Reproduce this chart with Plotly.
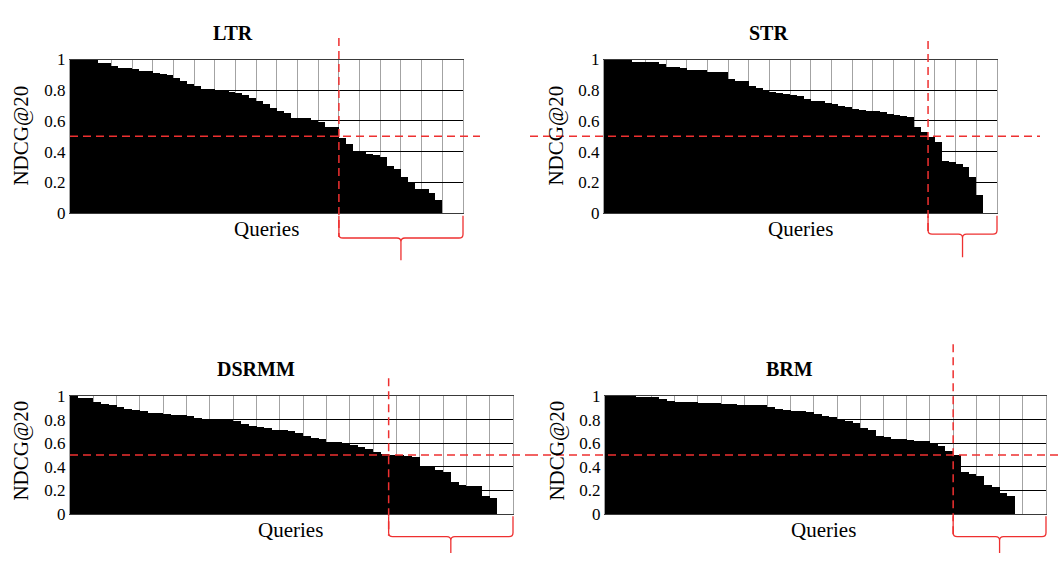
import plotly.graph_objects as go

W, H = 1064, 564

# ---------------- data ----------------
queries = list(range(57))  # queries sorted by NDCG@20

ltr = [1.0, 1.0, 1.0, 1.0, 0.98, 0.98, 0.96, 0.95, 0.95, 0.94,
       0.93, 0.93, 0.915, 0.91, 0.90, 0.88, 0.86, 0.845, 0.83, 0.81,
       0.81, 0.80, 0.80, 0.79, 0.788, 0.773, 0.752, 0.731, 0.71, 0.685,
       0.668, 0.652, 0.625, 0.625, 0.625, 0.61, 0.595, 0.563, 0.563, 0.49,
       0.45, 0.40, 0.40, 0.385, 0.38, 0.365, 0.31, 0.29, 0.235, 0.195,
       0.16, 0.16, 0.13, 0.09, 0.0, 0.0, 0.0]

str_ = [1.0, 1.0, 1.0, 1.0, 0.99, 0.99, 0.985, 0.985, 0.977, 0.956,
        0.956, 0.947, 0.937, 0.937, 0.937, 0.92, 0.92, 0.92, 0.878, 0.862,
        0.86, 0.83, 0.815, 0.795, 0.79, 0.785, 0.78, 0.773, 0.763, 0.746,
        0.735, 0.73, 0.72, 0.71, 0.70, 0.695, 0.68, 0.675, 0.67, 0.668,
        0.658, 0.645, 0.64, 0.635, 0.63, 0.565, 0.53, 0.495, 0.465, 0.34,
        0.335, 0.32, 0.30, 0.237, 0.12, 0.0, 0.0]

dsrmm = [1.0, 0.985, 0.985, 0.945, 0.93, 0.92, 0.905, 0.89, 0.88, 0.87,
         0.86, 0.855, 0.85, 0.84, 0.84, 0.83, 0.81, 0.805, 0.805, 0.795,
         0.795, 0.785, 0.76, 0.745, 0.735, 0.725, 0.715, 0.71, 0.70, 0.69,
         0.665, 0.648, 0.633, 0.61, 0.607, 0.605, 0.585, 0.57, 0.55, 0.525,
         0.51, 0.50, 0.497, 0.495, 0.483, 0.40, 0.40, 0.375, 0.36, 0.27,
         0.25, 0.24, 0.235, 0.15, 0.135, 0.0, 0.0]

brm = [1.0, 1.0, 1.0, 1.0, 0.995, 0.995, 0.99, 0.975, 0.96, 0.95,
       0.95, 0.95, 0.94, 0.94, 0.94, 0.93, 0.93, 0.925, 0.92, 0.92,
       0.92, 0.91, 0.89, 0.88, 0.87, 0.87, 0.865, 0.851, 0.83, 0.82,
       0.80, 0.785, 0.77, 0.73, 0.715, 0.665, 0.65, 0.64, 0.635, 0.625,
       0.62, 0.615, 0.60, 0.58, 0.535, 0.50, 0.355, 0.34, 0.325, 0.245,
       0.23, 0.18, 0.15, 0.0, 0.0, 0.0, 0.0]

titles = ["LTR", "STR", "DSRMM", "BRM"]
series = [ltr, str_, dsrmm, brm]
split_idx = [39, 47, 41, 45]   # first query under the threshold
threshold = 0.5
y_tickvals = [0, 0.2, 0.4, 0.6, 0.8, 1]
y_ticktext = ["0", "0.2", "0.4", "0.6", "0.8", "1"]
x_title = "Queries"
y_title = "NDCG@20"

# ---------------- layout geometry (pixels) ----------------
panels = [
    dict(l=70, r=463, t=52.3, b=211, title=(233, 25), xlab=(266, 228), ylab=(21, 131),
         vline=(30, 236), hline=(70, 480), brace=(214, 237, 260)),
    dict(l=604, r=997, t=52.3, b=211, title=(768, 25), xlab=(800, 228), ylab=(556, 131),
         vline=(33, 233), hline=(530, 1040), brace=(214, 233, 257)),
    dict(l=70, r=513, t=400.5, b=522.7, title=(256, 373), xlab=(290, 539), ylab=(21, 457),
         vline=(382, 545), hline=(70, 530), brace=(525, 546, 563)),
    dict(l=605, r=1046, t=400.5, b=522.7, title=(790, 373), xlab=(823, 539), ylab=(557, 457),
         vline=(347, 545), hline=(530, 1063), brace=(525, 546, 563)),
]

RED = "#ee3030"
FONT = "Liberation Serif"


def px(x):
    return x / W


def py(y):
    return 1 - y / H


fig = go.Figure()
layout = dict(
    width=W, height=H, margin=dict(l=0, r=0, t=0, b=0), autosize=False,
    paper_bgcolor="white", plot_bgcolor="white", showlegend=False,
    bargap=0, font=dict(family=FONT, color="black"),
)
annotations = []
shapes = []

n = len(queries)
for i, (p, vals, ttl, sp) in enumerate(zip(panels, series, titles, split_idx), start=1):
    xa = "x" if i == 1 else f"x{i}"
    ya = "y" if i == 1 else f"y{i}"
    fig.add_trace(go.Bar(
        x=queries, y=vals, xaxis=xa, yaxis=ya, width=1.0,
        marker=dict(color="black", line=dict(width=0)),
        hoverinfo="skip",
    ))
    xkey = "xaxis" if i == 1 else f"xaxis{i}"
    ykey = "yaxis" if i == 1 else f"yaxis{i}"
    layout[xkey] = dict(
        domain=[px(p["l"]), px(p["r"])], anchor=ya,
        range=[-0.5, n - 0.5], tickmode="linear", tick0=-0.5, dtick=3,
        showticklabels=False, ticks="", showgrid=True, gridcolor="#a3a3a3", gridwidth=1,
        showline=True, mirror=True, linecolor="#3a3a3a", linewidth=1,
        zeroline=False, fixedrange=True,
    )
    layout[ykey] = dict(
        domain=[py(p["b"]), py(p["t"])], anchor=xa,
        range=[0, 1], tickvals=y_tickvals, ticktext=y_ticktext,
        tickfont=dict(family=FONT, size=17, color="black"), ticks="",
        showgrid=True, gridcolor="black", gridwidth=1,
        showline=True, mirror=True, linecolor="#a3a3a3", linewidth=1,
        zeroline=False, fixedrange=True,
    )
    annotations.append(dict(text=f"<b>{ttl}</b>", x=px(p["title"][0]), y=py(p["title"][1]),
                            xref="paper", yref="paper", showarrow=False,
                            xanchor="center", yanchor="middle",
                            font=dict(family=FONT, size=20, color="black")))
    annotations.append(dict(text=x_title, x=px(p["xlab"][0]), y=py(p["xlab"][1]),
                            xref="paper", yref="paper", showarrow=False,
                            xanchor="center", yanchor="middle",
                            font=dict(family=FONT, size=21, color="black")))
    annotations.append(dict(text=y_title, x=px(p["ylab"][0]), y=py(p["ylab"][1]),
                            xref="paper", yref="paper", showarrow=False, textangle=-90,
                            xanchor="center", yanchor="middle",
                            font=dict(family=FONT, size=21, color="black")))

    # red threshold lines
    width_px = p["r"] - p["l"]
    xs = p["l"] + sp / n * width_px
    yth = p["b"] - threshold * (p["b"] - p["t"])
    shapes.append(dict(type="line", xref="paper", yref="paper",
                       x0=px(p["hline"][0]), x1=px(p["hline"][1]), y0=py(yth), y1=py(yth),
                       line=dict(color=RED, width=1.5, dash="8px,5px")))
    shapes.append(dict(type="line", xref="paper", yref="paper",
                       x0=px(xs), x1=px(xs), y0=py(p["vline"][0]), y1=py(p["vline"][1]),
                       line=dict(color=RED, width=1.5, dash="8px,5px")))
    # brace under the low-scoring queries
    yT, yM, yTip = p["brace"]
    xL, xR = xs, p["r"]
    xM = (xL + xR) / 2
    r = 4

    def pt(x, y):
        return f"{px(x):.5f},{py(y):.5f}"

    path = (f"M{pt(xL, yT)} L{pt(xL, yM - r)} Q{pt(xL, yM)} {pt(xL + r, yM)} "
            f"L{pt(xM - r, yM)} Q{pt(xM, yM)} {pt(xM, yM + r)} L{pt(xM, yTip)} "
            f"M{pt(xM, yM + r)} Q{pt(xM, yM)} {pt(xM + r, yM)} "
            f"L{pt(xR - r, yM)} Q{pt(xR, yM)} {pt(xR, yM - r)} L{pt(xR, yT)}")
    shapes.append(dict(type="path", xref="paper", yref="paper", path=path,
                       line=dict(color=RED, width=1.3)))

layout["annotations"] = annotations
layout["shapes"] = shapes
fig.update_layout(**layout)

page_fix = """
document.documentElement.style.margin='0';document.documentElement.style.padding='0';
document.body.style.margin='0';document.body.style.padding='0';document.body.style.overflow='hidden';
var gd=document.getElementsByClassName('plotly-graph-div')[0];
gd.style.position='absolute';gd.style.left='0px';gd.style.top='0px';
gd.getBoundingClientRect();
"""
fig.write_html("out.html", post_script=page_fix, config={"displayModeBar": False, "responsive": False})
